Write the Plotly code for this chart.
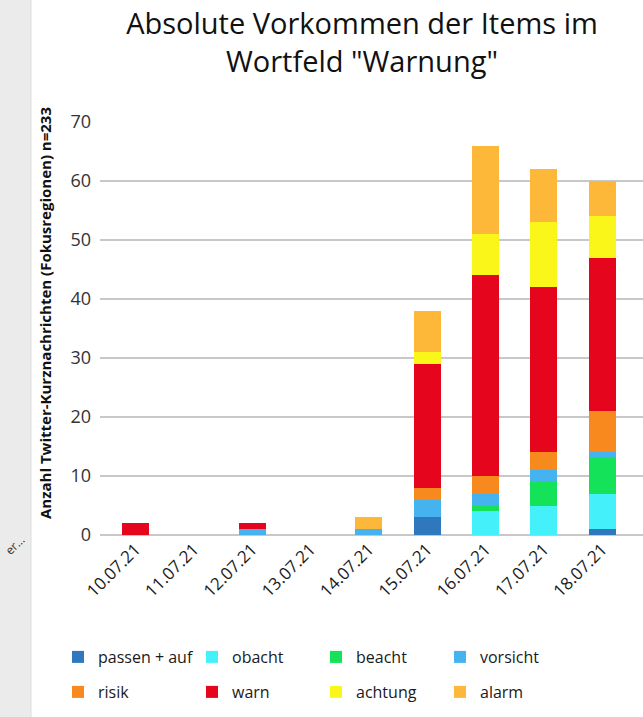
import plotly.graph_objects as go

dates = ["10.07.21", "11.07.21", "12.07.21", "13.07.21", "14.07.21",
         "15.07.21", "16.07.21", "17.07.21", "18.07.21"]

passen_auf = [0, 0, 0, 0, 0, 3, 0, 0, 1]
obacht     = [0, 0, 0, 0, 0, 0, 4, 5, 6]
beacht     = [0, 0, 0, 0, 0, 0, 1, 4, 6]
vorsicht   = [0, 0, 1, 0, 1, 3, 2, 2, 1]
risik      = [0, 0, 0, 0, 0, 2, 3, 3, 7]
warn       = [2, 0, 1, 0, 0, 21, 34, 28, 26]
achtung    = [0, 0, 0, 0, 0, 2, 7, 11, 7]
alarm      = [0, 0, 0, 0, 2, 7, 15, 9, 6]

series = [
    ("passen + auf", passen_auf, "#2F78BE"),
    ("obacht", obacht, "#44F0FA"),
    ("beacht", beacht, "#14E35A"),
    ("vorsicht", vorsicht, "#45B3F0"),
    ("risik", risik, "#F7891E"),
    ("warn", warn, "#E5061E"),
    ("achtung", achtung, "#FAF619"),
    ("alarm", alarm, "#FDB83A"),
]

W, H = 643, 717
L, R, T, B = 100, 0, 122, 182
pw = W - L - R
ph = H - T - B

def px_x(x):
    return (x - L) / pw

def px_y(y):
    return (H - B - y) / ph

# legend placement: 4 columns x 2 rows (pixel positions of item text start)
col_text_x = [96, 230, 354, 478]
row_y = [657, 692]

fig = go.Figure()
legend_layouts = {}
for i, (name, vals, color) in enumerate(series):
    key = "legend" if i == 0 else f"legend{i + 1}"
    fig.add_trace(go.Bar(x=dates, y=vals, name=name, marker_color=color,
                         marker_line_width=0, width=0.46, legend=key))
    col, row = i % 4, i // 4
    legend_layouts[key] = dict(
        xref="container", yref="container",
        x=(col_text_x[col] - 38) / W, y=(H - row_y[row]) / H,
        xanchor="left", yanchor="middle",
        font=dict(size=16, color="#1a1a1a"),
        bgcolor="rgba(0,0,0,0)", borderwidth=0,
    )

fig.update_layout(
    width=W, height=H,
    margin=dict(l=L, r=R, t=T, b=B, autoexpand=False),
    barmode="stack",
    plot_bgcolor="white",
    paper_bgcolor="white",
    font=dict(family="Open Sans", color="#222222"),
    xaxis=dict(type="category", range=[-0.61, 8.70], tickangle=-45,
               tickfont=dict(size=17, color="#1a1a1a"), showgrid=False,
               showline=False, ticks=""),
    yaxis=dict(range=[0, 70], dtick=10, showgrid=True, gridcolor="#c8c8c8",
               gridwidth=2, zeroline=True, zerolinecolor="#c8c8c8",
               zerolinewidth=2, tickfont=dict(size=18, color="#333333"),
               ticks="", ticklabelstandoff=8),
    title=dict(text="Absolute Vorkommen der Items im<br>Wortfeld \"Warnung\"",
               x=362 / W, xanchor="center", xref="container",
               y=(H - 34) / H, yanchor="middle", yref="container",
               font=dict(size=29, color="#111111")),
    showlegend=True,
    **legend_layouts,
)

fig.add_shape(type="rect", xref="paper", yref="paper",
              x0=px_x(-5), x1=px_x(31), y0=px_y(H + 5), y1=px_y(-5),
              fillcolor="#ebebeb", line=dict(color="#dcdcdc", width=1),
              layer="below")

fig.add_annotation(text="<b>Anzahl Twitter-Kurznachrichten (Fokusregionen) n=233</b>",
                   xref="paper", yref="paper", x=px_x(45), y=px_y(313),
                   textangle=-90, showarrow=False,
                   font=dict(size=15, color="#111111", family="Open Sans"),
                   xanchor="center", yanchor="middle")

fig.add_annotation(text="er...", xref="paper", yref="paper",
                   x=px_x(14), y=px_y(545), textangle=-45, showarrow=False,
                   font=dict(size=12, color="#333333"),
                   xanchor="center", yanchor="middle")

fig.write_html("out.html")
